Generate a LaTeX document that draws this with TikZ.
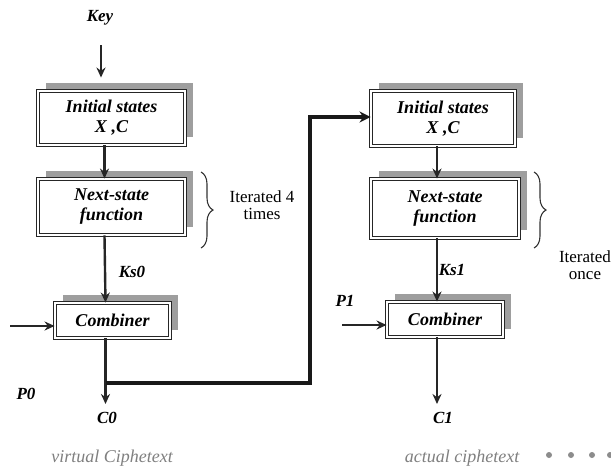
\documentclass[tikz,border=0pt]{standalone}
\usepackage{fontspec}
\setmainfont{Liberation Serif}
\usetikzlibrary{shadows,arrows.meta,decorations.pathreplacing,calc}
\begin{document}
\begin{tikzpicture}[x=1pt,y=-1pt,
  blk/.style={draw=black!85, double=white, double distance=2.2pt, line width=0.9pt, fill=white,
    align=center, inner sep=0pt, font=\fontsize{18}{20}\selectfont\bfseries\itshape,
    general shadow={fill=black!38, shadow xshift=8pt, shadow yshift=8pt}},
  lbl/.style={font=\fontsize{17}{19}\selectfont\bfseries\itshape, inner sep=0pt},
  note/.style={font=\fontsize{17}{17}\selectfont, align=center, inner sep=0pt},
  captext/.style={font=\fontsize{18}{20}\selectfont\itshape, text=black!50, inner sep=0pt},
  arr/.style={line width=2.4pt, draw=black!85, -{Stealth[length=10pt,width=9pt]}},
  thickloop/.style={line width=4pt, draw=black!90, -{Stealth[length=11pt,width=11pt]}},
  brc/.style={draw=black!80, line width=1.1pt, decoration={brace, amplitude=12pt}, decorate}
]
\useasboundingbox[fill=white] (0,0) rectangle (611,466);

% left column
\node[lbl] (key) at (100,18) {Key};
\node[blk, minimum width=147pt, minimum height=54pt] (lb1) at (111.5,118) {Initial states\\X ,C};
\node[blk, minimum width=147pt, minimum height=56pt] (lb2) at (111.5,207) {Next-state\\function};
\node[blk, minimum width=115pt, minimum height=35pt] (lc) at (112.5,320.5) {Combiner};
\node[lbl] (ks0) at (132,272) {Ks0};
\node[lbl] (p0) at (26,394) {P0};
\node[lbl] (c0) at (107,418) {C0};
\coordinate (p0in) at (10,326);
\coordinate (keyarr) at (101,45);

\draw[arr, shorten >=13pt] (keyarr) -- (keyarr |- lb1.north);
\draw[arr] ([xshift=-7pt]lb1.south) -- ([xshift=-7pt]lb2.north);
\draw[arr] ([xshift=-7pt]lb2.south) -- ([xshift=-7pt]lc.north);
\draw[arr] (p0in) -- (p0in -| lc.west);
\coordinate (lout) at ([xshift=-7pt]lc.south);
\draw[arr] (lout) -- (lout |- 0,404);
\draw[brc] (201,172) -- (201,248);
\node[note] (it4) at (262,205) {Iterated 4\\times};
\node[captext] (vc) at (112,458) {virtual Ciphetext};

% loop connector
\coordinate (j) at (lout |- 0,383);
\coordinate (turn) at (310,383);

% right column
\node[blk, minimum width=144pt, minimum height=55pt] (rb1) at (443,118.5) {Initial states\\X ,C};
\node[blk, minimum width=148pt, minimum height=59pt] (rb2) at (445,208.5) {Next-state\\function};
\node[blk, minimum width=116pt, minimum height=35pt] (rc) at (445,319.5) {Combiner};
\node[lbl] (ks1) at (452,270) {Ks1};
\node[lbl] (p1) at (345,301) {P1};
\node[lbl] (c1) at (443,418) {C1};
\coordinate (p1in) at (342,325);

\draw[thickloop] (j) -- (turn) |- (rb1.west |- 0,117);

\draw[arr] ([xshift=-6pt]rb1.south) -- ([xshift=-6pt]rb1.south |- rb2.north);
\draw[arr] ([xshift=-8pt]rb2.south) -- ([xshift=-8pt]rc.north);
\draw[arr] (p1in) -- (p1in -| rc.west);
\coordinate (rout) at ([xshift=-8pt]rc.south);
\draw[arr] (rout) -- (rout |- 0,404);
\draw[brc] (534,172) -- (534,248);
\node[note] (it1) at (585,265) {Iterated\\once};
\node[captext] (ac) at (462,458) {actual ciphetext};
\foreach \x [count=\i] in {549,571,592,610}
  \fill[black!45] (\x,455) circle (3pt) coordinate (d\i);
\end{tikzpicture}
\end{document}
